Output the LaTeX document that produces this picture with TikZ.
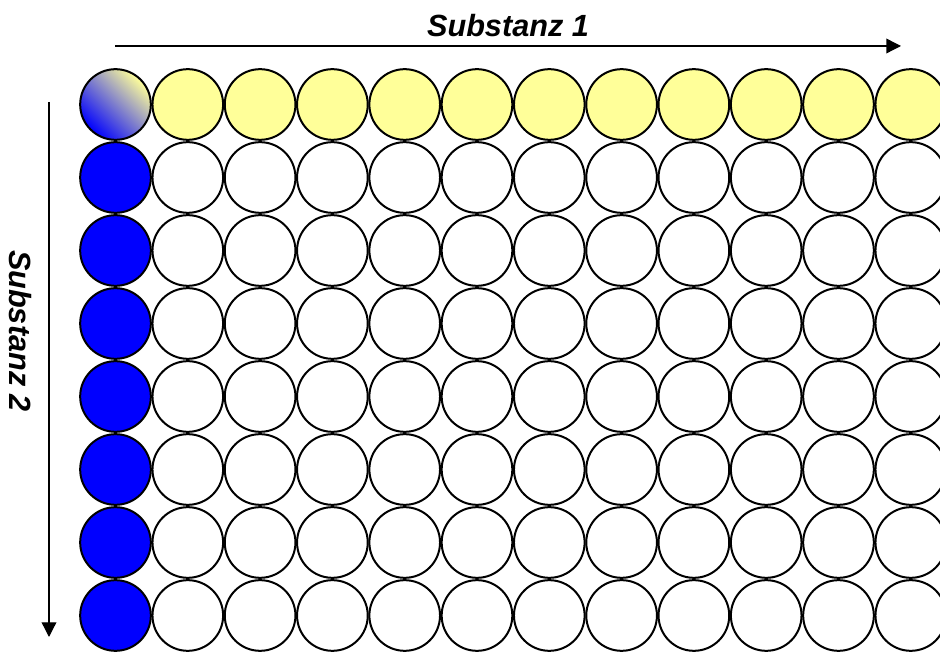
\documentclass[tikz,border=0pt]{standalone}
\usepackage{fontspec}
\setmainfont{Liberation Sans}
\usetikzlibrary{arrows.meta}
\definecolor{paleyellow}{RGB}{255,255,153}
\definecolor{wellblue}{RGB}{0,0,255}
\begin{document}
\begin{tikzpicture}[x=0.75pt,y=-0.75pt,
  well/.style={circle,draw=black,line width=1.5pt,inner sep=0pt,minimum size=53pt,fill=white},
  header/.style={well,fill=paleyellow},
  sample/.style={well,fill=wellblue},
  corner/.style={well,top color=paleyellow,bottom color=wellblue,shading angle=-45},
  axislabel/.style={font=\fontsize{23pt}{27pt}\selectfont\bfseries\itshape,inner sep=0pt},
  axisarrow/.style={line width=1pt,-{Triangle[length=11pt,width=11pt]}}]
\clip (0,0) rectangle (940,655);
\fill[white] (0,0) rectangle (940,655);
% wells
\foreach \r in {0,...,7}{
  \foreach \c in {0,...,11}{
    \pgfmathsetmacro{\xx}{115.5+72.3*\c}
    \pgfmathsetmacro{\yy}{104.5+73*\r}
    \ifnum\r=0
      \ifnum\c=0
        \node[corner] (w-\r-\c) at (\xx,\yy) {};
      \else
        \node[header] (w-\r-\c) at (\xx,\yy) {};
      \fi
    \else
      \ifnum\c=0
        \node[sample] (w-\r-\c) at (\xx,\yy) {};
      \else
        \node[well] (w-\r-\c) at (\xx,\yy) {};
      \fi
    \fi
  }
}
% axes
\coordinate (h0) at (115,46);
\coordinate (h1) at (901,46);
\coordinate (v0) at (49,102);
\coordinate (v1) at (49,637);
\draw[axisarrow] (h0) -- (h1);
\draw[axisarrow] (v0) -- (v1);
\node[axislabel,anchor=base] (s1) at (508,37) {Substanz 1};
\node[axislabel,rotate=-90] (s2) at (20,331) {Substanz 2};
\end{tikzpicture}
\end{document}
